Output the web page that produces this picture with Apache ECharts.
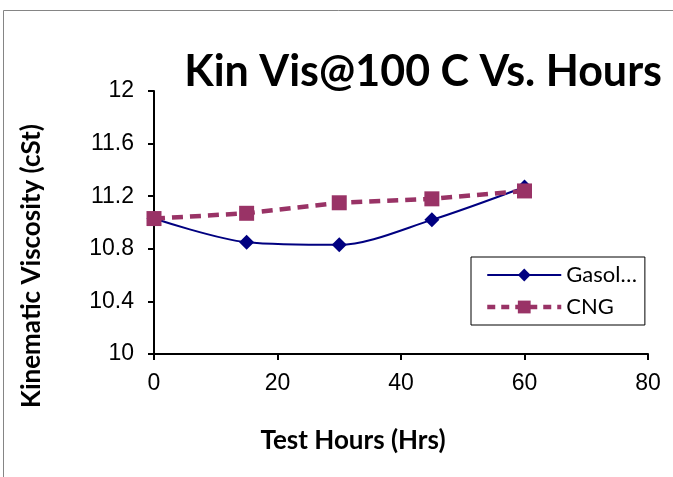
<!DOCTYPE html>
<html>
<head>
<meta charset="utf-8">
<script src="https://cdn.jsdelivr.net/npm/echarts@6/dist/echarts.min.js"></script>
<style>
  html, body { margin: 0; padding: 0; background: #fff; }
  #chart { width: 673px; height: 477px; }
</style>
</head>
<body>
<div id="chart"></div>
<script>
// Test hours and kinematic viscosity readings (cSt at 100 C)
const hours = [0, 15, 30, 45, 60];
const gasolineVis = [11.03, 10.85, 10.83, 11.02, 11.27];
const cngVis = [11.03, 11.07, 11.15, 11.18, 11.24];
const seriesNames = ['Gasoline', 'CNG'];
const xTitle = 'Test Hours (Hrs)';
const yTitle = 'Kinematic Viscosity (cSt)';

const pair = (xs, ys) => xs.map((x, i) => [x, ys[i]]);

const chart = echarts.init(document.getElementById('chart'), null, { renderer: 'canvas' });

const labelFont = 'Liberation Sans, Arial, sans-serif';
const boldFont = 'Lato, Open Sans, sans-serif';

const gasLine = { color: '#000080', width: 2 };
const cngLine = { color: '#993366', width: 4.5, type: [11, 7] };

chart.setOption({
  backgroundColor: '#fff',
  animation: false,
  graphic: [
    {
      type: 'rect',
      shape: { x: 3.5, y: 10.5, width: 700, height: 500 },
      style: { fill: 'none', stroke: '#858585', lineWidth: 1 },
      silent: true, z: -1
    },
    {
      // x axis title
      type: 'text', x: 353, y: 441,
      style: {
        text: xTitle, fontFamily: boldFont, fontWeight: 'bold', fontSize: 26,
        fill: '#000', align: 'center', verticalAlign: 'middle'
      }
    },
    {
      // y axis title, rotated
      type: 'text', x: 32, y: 266, rotation: Math.PI / 2,
      style: {
        text: yTitle, fontFamily: boldFont, fontWeight: 'bold', fontSize: 26,
        fill: '#000', align: 'center', verticalAlign: 'middle'
      }
    }
  ],
  title: {
    text: 'Kin Vis@100 C Vs. Hours',
    right: 6, top: 46,
    textStyle: { fontFamily: boldFont, fontWeight: 'bold', fontSize: 43, color: '#000' }
  },
  grid: { left: 154, top: 91, right: 25, bottom: 123, containLabel: false },
  xAxis: {
    type: 'value', min: 0, max: 80, interval: 20,
    axisLine: { show: true, onZero: false, lineStyle: { color: '#000', width: 2 } },
    axisTick: { show: true, length: 6, lineStyle: { color: '#000', width: 2 } },
    axisLabel: { fontFamily: labelFont, fontSize: 23, color: '#000', margin: 18 },
    splitLine: { show: false }
  },
  yAxis: {
    type: 'value', min: 10, max: 12, interval: 0.4,
    axisLine: { show: true, lineStyle: { color: '#000', width: 2 } },
    axisTick: { show: true, length: 6, lineStyle: { color: '#000', width: 2 } },
    axisLabel: {
      fontFamily: labelFont, fontSize: 23, color: '#000', margin: 20,
      formatter: v => (Math.round(v * 10) / 10).toString()
    },
    splitLine: { show: false }
  },
  legend: {
    show: true,
    left: 471, top: 257,
    orient: 'vertical',
    width: 162,
    padding: [7, 8, 7, 14],
    itemGap: 10,
    itemWidth: 74, itemHeight: 16,
    borderColor: '#000', borderWidth: 1,
    backgroundColor: '#fff',
    textStyle: { fontFamily: boldFont, fontSize: 22, color: '#000' },
    formatter: name => name === 'Gasoline' ? 'Gasol…' : name,
    data: [
      { name: seriesNames[0], lineStyle: gasLine },
      { name: seriesNames[1], lineStyle: { color: '#993366', width: 4.5, type: [8, 6] } }
    ]
  },
  series: [
    {
      name: seriesNames[0], type: 'line', smooth: 0.3,
      data: pair(hours, gasolineVis),
      symbol: 'diamond', symbolSize: 15,
      lineStyle: gasLine,
      itemStyle: { color: '#000080' },
      z: 2
    },
    {
      name: seriesNames[1], type: 'line',
      data: pair(hours, cngVis),
      symbol: 'rect', symbolSize: 15,
      lineStyle: cngLine,
      itemStyle: { color: '#993366' },
      z: 3
    }
  ]
});
</script>
</body>
</html>
